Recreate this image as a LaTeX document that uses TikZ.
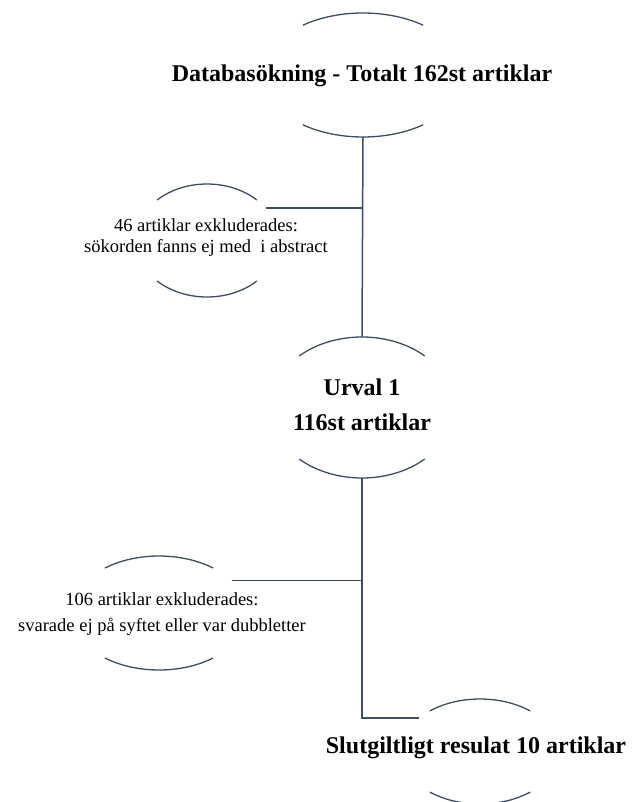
\documentclass[tikz,border=0pt]{standalone}
\usepackage{fontspec}
\setmainfont{Liberation Serif}
\usetikzlibrary{calc, shapes.geometric}
\definecolor{rimblue}{RGB}{62,76,102}

\begin{document}
\begin{tikzpicture}[x=1pt, y=1pt,
    bub/.style   = {ellipse, draw=none, inner sep=0pt},
    rim/.style   = {draw=rimblue, line width=1.3pt},
    link/.style  = {draw=rimblue, line width=1.5pt},
    main/.style  = {font=\fontsize{24}{35}\selectfont\bfseries, align=center, inner sep=0pt},
    side/.style  = {font=\fontsize{18.5}{21}\selectfont, align=center, inner sep=0pt},
]
\useasboundingbox (0,0) rectangle (632,-802);

%% ---- Bubbles (empty ellipses, only arcs are drawn) ----
\node[bub, minimum width=202pt, minimum height=124pt] (db)  at (363,-75)    {};
\node[bub, minimum width=143pt, minimum height=113pt] (ex1) at (207,-240.5) {};
\node[bub, minimum width=184pt, minimum height=141pt] (urv) at (362,-407.5) {};
\node[bub, minimum width=176pt, minimum height=114pt] (ex2) at (159,-613)   {};
\node[bub, minimum width=158pt, minimum height=105pt] (fin) at (480,-751.5) {};

%% ---- Arcs (top and bottom of each bubble) ----
\foreach \n/\a/\b/\t in {db/101/62/53.5, ex1/71.5/56.5/45.8, urv/92/70.5/47,
                         ex2/88/57/52, fin/79/52.5/50.5}{
    \draw[rim] ($(\n)+(\t:{\a} and {\b})$)
        arc[start angle=\t, end angle=180-\t, x radius=\a, y radius=\b];
    \draw[rim] ($(\n)+({180+\t}:{\a} and {\b})$)
        arc[start angle=180+\t, end angle=360-\t, x radius=\a, y radius=\b];
}

%% ---- Texts ----
\node[main] (dbt)  at (362,-76)  {Databasökning - Totalt 162st artiklar};
\node[side] (ex1t) at (206,-238) {46 artiklar exkluderades:\\sökorden fanns ej med\ \ i abstract};
\node[main] (urvt) at (362,-405) {Urval 1\\116st artiklar};
\node[side] (ex2t) at (162,-614) {106 artiklar exkluderades:\\[5pt]svarade ej på syftet eller var dubbletter};
\node[main] (fint) at (476,-748) {Slutgiltligt resulat 10 artiklar};

%% ---- Connectors ----
\draw[link] (db.south) -- (urv.north);
\draw[link] (ex1.29) -- (ex1.29 -| db.south);
\draw[link] (ex2.24) -- (ex2.24 -| urv.south);
\draw[link] (urv.south) |- (fin.151);

\end{tikzpicture}
\end{document}
